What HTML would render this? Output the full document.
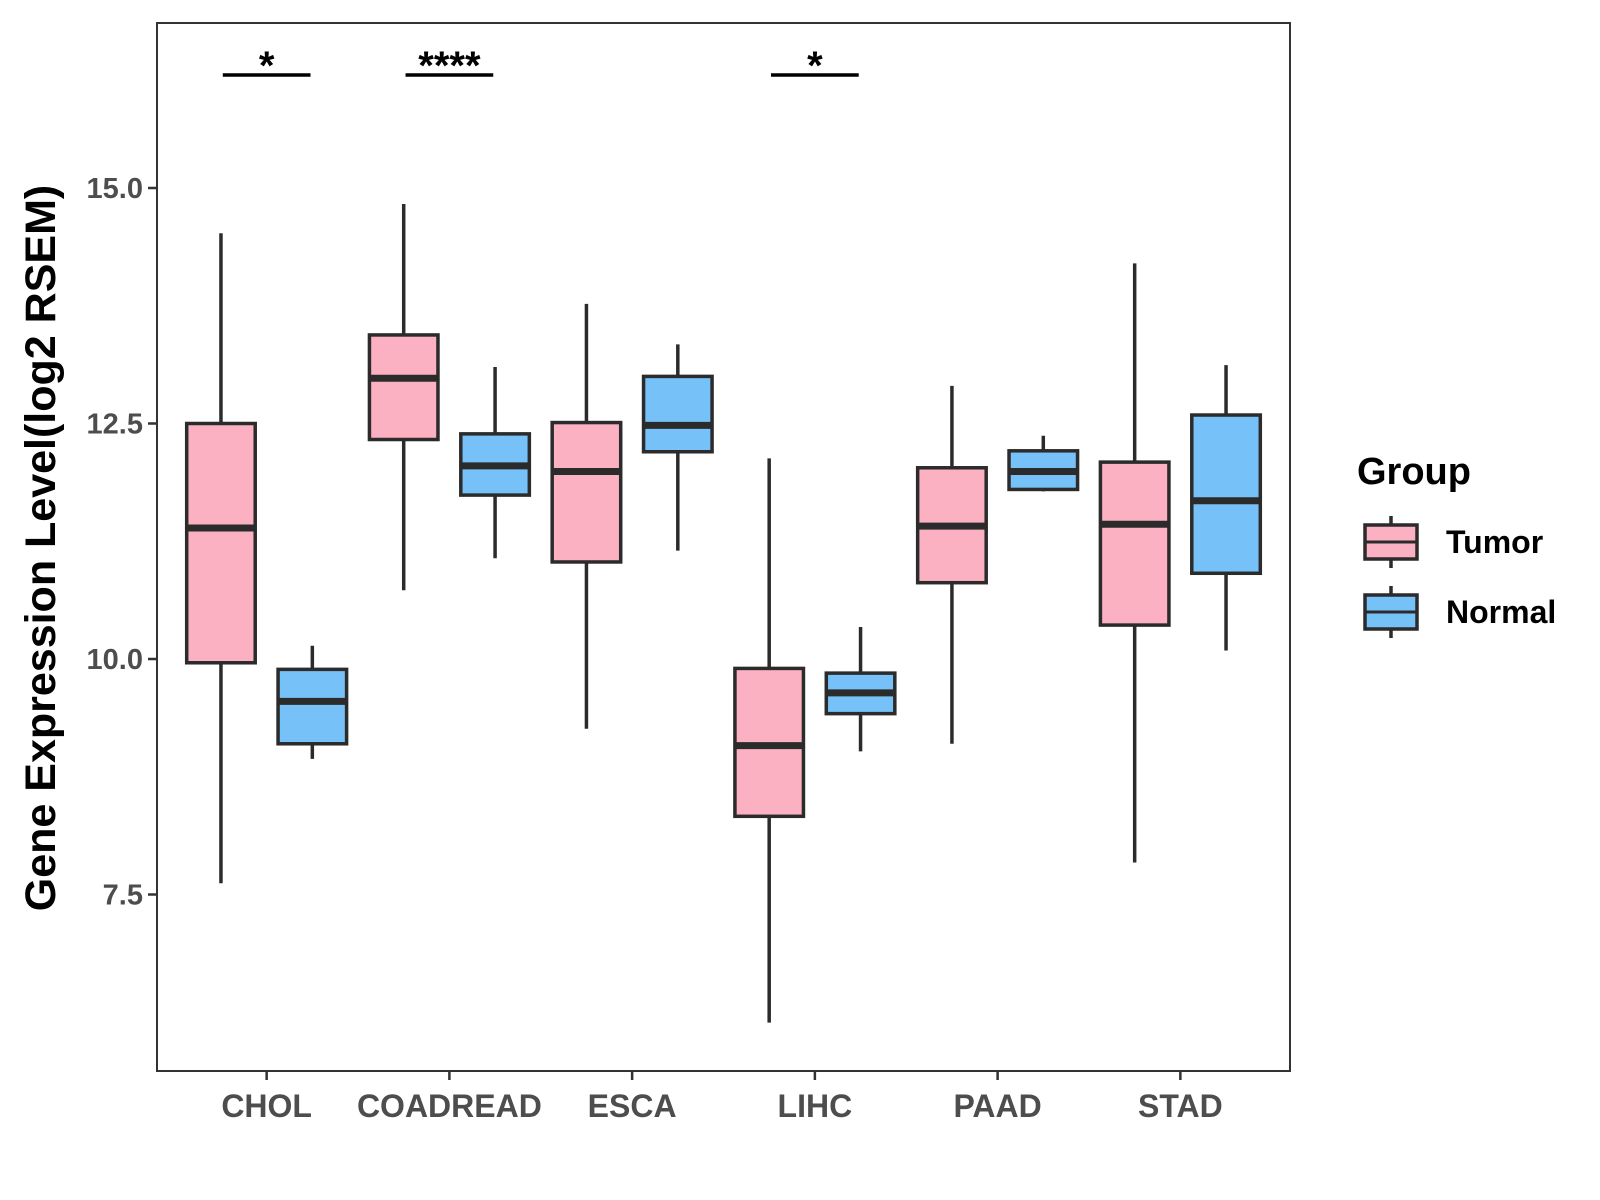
<!DOCTYPE html>
<html><head><meta charset="utf-8"><style>
body{margin:0;background:#fff;}
svg{display:block;font-family:"Liberation Sans",Arial,sans-serif;}
</style></head><body>
<svg id="chart" width="1600" height="1200" viewBox="0 0 1600 1200">
<rect x="0" y="0" width="1600" height="1200" fill="#fff"/>
<g id="marks"></g>
<rect x="157" y="23" width="1133" height="1048" fill="none" stroke="#333" stroke-width="2"/>
<g id="axes"></g>
<text transform="translate(55,548) rotate(-90)" text-anchor="middle" font-size="43" font-weight="bold" fill="#000">Gene Expression Level(log2 RSEM)</text>
<g>
<text x="1357" y="484" font-size="38" font-weight="bold" fill="#000">Group</text>
<g id="legend-keys"></g>
</g>
</svg>
<script>
const categories=["CHOL","COADREAD","ESCA","LIHC","PAAD","STAD"];
const groups=["Tumor","Normal"];
const groupColors=["#fbb1c2","#76c1f7"];
// [low, Q1, median, Q3, high]
const tumorStats=[[7.62,9.96,11.39,12.5,14.52],[10.73,12.33,12.98,13.44,14.83],[9.26,11.03,11.99,12.51,13.77],[6.14,8.33,9.08,9.90,12.13],[9.10,10.81,11.41,12.03,12.90],[7.84,10.36,11.43,12.09,14.20]];
const normalStats=[[8.94,9.10,9.55,9.89,10.14],[11.07,11.74,12.05,12.39,13.10],[11.15,12.20,12.48,13.0,13.34],[9.02,9.42,9.64,9.85,10.34],[11.78,11.80,11.99,12.21,12.37],[10.09,10.91,11.68,12.59,13.12]];
const yTicks=[7.5,10.0,12.5,15.0];
const yTickLabels=["7.5","10.0","12.5","15.0"];
const sigCats=[0,1,3];
const sigLabels=["*","****","*"];
const sigY=16.2;

const NS="http://www.w3.org/2000/svg";
const px0=157,px1=1290;
const xs=i=>px0+(i+1-0.4)/6.2*(px1-px0);
const ys=v=>659-(v-10)*94.2;
const unit=(px1-px0)/6.2;
function mk(tag,attrs,parent){const e=document.createElementNS(NS,tag);for(const k in attrs)e.setAttribute(k,attrs[k]);parent.appendChild(e);return e;}
const marks=document.getElementById('marks');
const axes=document.getElementById('axes');
[tumorStats,normalStats].forEach((stats,g)=>{
  stats.forEach((s,i)=>{
    const cx=xs(i)+(g===0?-0.25:0.25)*unit, w=0.375*unit;
    const grp=mk('g',{},marks);
    
    
    mk('line',{x1:cx,x2:cx,y1:ys(s[4]),y2:ys(s[0]),stroke:'#2b2b2b','stroke-width':3.5},grp);
    mk('rect',{x:cx-w/2,y:ys(s[3]),width:w,height:ys(s[1])-ys(s[3]),fill:groupColors[g],stroke:'#2b2b2b','stroke-width':3.5},grp);
    mk('line',{x1:cx-w/2,x2:cx+w/2,y1:ys(s[2]),y2:ys(s[2]),stroke:'#2b2b2b','stroke-width':7},grp);
  });
});
sigCats.forEach((c,k)=>{
  const g=mk('g',{},marks);
  
  
  mk('line',{x1:xs(c)-0.24*unit,x2:xs(c)+0.24*unit,y1:ys(sigY),y2:ys(sigY),stroke:'#000','stroke-width':3.5},g);
  const t=mk('text',{x:xs(c),y:ys(sigY)+4,'text-anchor':'middle','font-size':40,'font-weight':'bold',fill:'#000'},g);
  t.textContent=sigLabels[k];
});
yTicks.forEach((v,i)=>{
  const l=mk('line',{x1:148,x2:157,y1:ys(v),y2:ys(v),stroke:'#333','stroke-width':2.5},axes);
  
  
  const t=mk('text',{x:143,y:ys(v)+10,'text-anchor':'end','font-size':29,'font-weight':'bold',fill:'#4d4d4d'},axes);
  
  
  t.textContent=yTickLabels[i];
});
categories.forEach((c,i)=>{
  const l=mk('line',{x1:xs(i),x2:xs(i),y1:1071,y2:1080,stroke:'#333','stroke-width':2.5},axes);
  
  
  const t=mk('text',{x:xs(i),y:1117,'text-anchor':'middle','font-size':32,'font-weight':'bold',fill:'#4d4d4d'},axes);
  
  
  t.textContent=c;
});
const lk=document.getElementById('legend-keys');
groups.forEach((gname,g)=>{
  const y0=542+g*70, cx=1391;
  const e=mk('g',{},lk);
  
  
  mk('line',{x1:cx,x2:cx,y1:y0-26,y2:y0+26,stroke:'#2b2b2b','stroke-width':3.5},e);
  mk('rect',{x:1365,y:y0-17,width:52,height:34,fill:groupColors[g],stroke:'#2b2b2b','stroke-width':3.5},e);
  mk('line',{x1:1365,x2:1417,y1:y0,y2:y0,stroke:'#2b2b2b','stroke-width':3},e);
  const t=mk('text',{x:1446,y:y0+11,'font-size':32,'font-weight':'bold',fill:'#000'},e);
  t.textContent=gname;
});
</script>
</body></html>
